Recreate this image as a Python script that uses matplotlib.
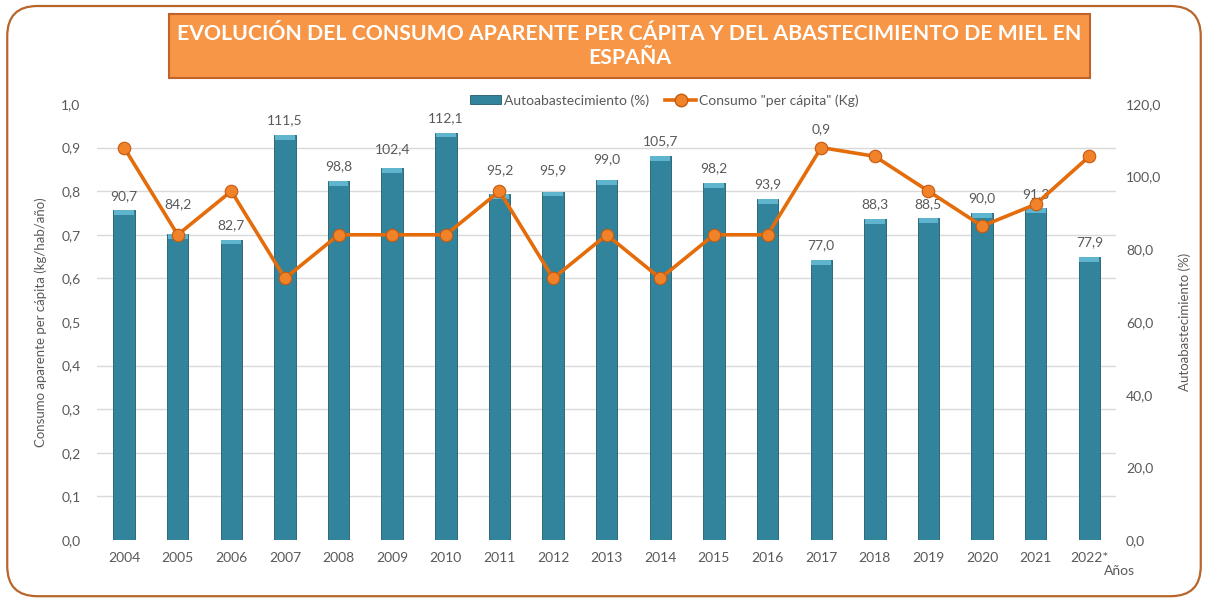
import numpy as np
import matplotlib
matplotlib.use("Agg")
import matplotlib.pyplot as plt
from matplotlib.patches import FancyBboxPatch, Rectangle
from matplotlib.lines import Line2D

plt.rcParams['font.family'] = ['Lato', 'DejaVu Sans']

# data
years = ["2004", "2005", "2006", "2007", "2008", "2009", "2010", "2011", "2012", "2013",
         "2014", "2015", "2016", "2017", "2018", "2019", "2020", "2021", "2022*"]
autoabastecimiento = [90.7, 84.2, 82.7, 111.5, 98.8, 102.4, 112.1, 95.2, 95.9, 99.0,
                      105.7, 98.2, 93.9, 77.0, 88.3, 88.5, 90.0, 91.3, 77.9]
consumo = [0.9, 0.7, 0.8, 0.6, 0.7, 0.7, 0.7, 0.8, 0.6, 0.7,
           0.6, 0.7, 0.7, 0.9, 0.88, 0.8, 0.72, 0.77, 0.88]

TXT = "#595959"
BAR = "#31849B"
LINE = "#E46C0A"

def fmt(v, nd=1):
    return f"{v:.{nd}f}".replace(".", ",")

fig = plt.figure(figsize=(12.08, 6.01), dpi=100)

# outer rounded frame
frame = FancyBboxPatch((0.006, 0.008), 0.988, 0.982, boxstyle="round,pad=0,rounding_size=0.025",
                       transform=fig.transFigure, fill=False, edgecolor="#B8652A", linewidth=1.6,
                       mutation_aspect=2.0)
fig.patches.append(frame)

ax = fig.add_axes([0.0805, 0.1015, 0.8435, 0.7255])
ax2 = ax.twinx()
x = np.arange(len(years))

# bars on the right-hand scale (0-120)
ax.bar(x, autoabastecimiento, width=0.4, color=BAR, edgecolor="#215B6B", linewidth=0.6, zorder=2)
cap = 1.3
ax.bar(x, [cap] * len(x), bottom=np.array(autoabastecimiento) - cap, width=0.37,
       color="#5FB4CE", linewidth=0, zorder=3)
ax.set_ylim(0, 120)
ax.set_xlim(-0.5, len(years) - 0.5)
ax.yaxis.tick_right()
ax.yaxis.set_label_position("right")
ax.set_yticks(np.arange(0, 121, 20))
ax.set_yticklabels([fmt(v) for v in np.arange(0, 121, 20)])
ax.set_yticks(np.arange(0, 121, 12), minor=True)
ax.grid(True, axis="y", which="minor", color="#D9D9D9", linewidth=1.0, zorder=0)
ax.set_axisbelow(True)
ax.tick_params(axis="y", which="both", length=0, pad=7, labelsize=10, labelcolor=TXT)
ax.set_xticks(x)
ax.set_xticklabels(years)
ax.tick_params(axis="x", length=0, pad=9, labelsize=10, labelcolor=TXT)
ax.set_ylabel("Autoabastecimiento (%)", fontsize=9.5, color=TXT, labelpad=12)
for s in ax.spines.values():
    s.set_visible(False)

# bar labels, a few are nudged up in the original to clear the line
nudge = {1: 11, 7: 7, 8: 5, 9: 5, 5: 3}
for i, v in enumerate(autoabastecimiento):
    ax.annotate(fmt(v), (x[i], v), xytext=(0, 10.5 + nudge.get(i, 0)), textcoords="offset points",
                ha="center", va="center", fontsize=10, color=TXT, zorder=5)

# consumption line on the left-hand scale (0-1)
ax2.plot(x, consumo, color=LINE, linewidth=2.6, marker="o", markersize=9,
         markerfacecolor="#F0822A", markeredgecolor="#C55A11", markeredgewidth=0.8, zorder=4)
ax2.set_ylim(0, 1.0)
ax2.yaxis.tick_left()
ax2.yaxis.set_label_position("left")
ax2.set_yticks(np.arange(0, 1.01, 0.1))
ax2.set_yticklabels([fmt(v) for v in np.arange(0, 1.01, 0.1)])
ax2.tick_params(axis="y", length=0, pad=12, labelsize=10, labelcolor=TXT)
ax2.set_ylabel("Consumo aparente per cápita (kg/hab/año)", fontsize=9.5, color=TXT, labelpad=10)
for s in ax2.spines.values():
    s.set_visible(False)
ax2.annotate(fmt(consumo[13]), (x[13], consumo[13]), xytext=(0, 13), textcoords="offset points",
             ha="center", va="center", fontsize=10, color=TXT)

fig.text(0.927, 0.05, "Años", fontsize=10, color=TXT, ha="center", va="center")

# legend
handles = [Rectangle((0, 0), 1, 1, facecolor=BAR, edgecolor="#215B6B", linewidth=0.6),
           Line2D([], [], color=LINE, linewidth=2.6, marker="o", markersize=9,
                  markerfacecolor="#F0822A", markeredgecolor="#C55A11")]
fig.legend(handles, ["Autoabastecimiento (%)", 'Consumo "per cápita" (Kg)'],
           loc="center", bbox_to_anchor=(0.55, 0.833), ncol=2, frameon=False,
           fontsize=10, labelcolor=TXT, handlelength=2.2, handleheight=0.6,
           columnspacing=1.2, handletextpad=0.2)

# title box
tbox = FancyBboxPatch((0.1395, 0.870), 0.763, 0.107, boxstyle="square,pad=0",
                      transform=fig.transFigure, facecolor="#F79646", edgecolor="#C0622A",
                      linewidth=1.5)
fig.patches.append(tbox)
fig.text(0.521, 0.923, "EVOLUCIÓN DEL CONSUMO APARENTE PER CÁPITA Y DEL ABASTECIMIENTO DE MIEL EN\nESPAÑA",
         ha="center", va="center", fontsize=15.3, fontweight="bold", color="white", linespacing=1.25)

fig.savefig("out.png", dpi=100)
